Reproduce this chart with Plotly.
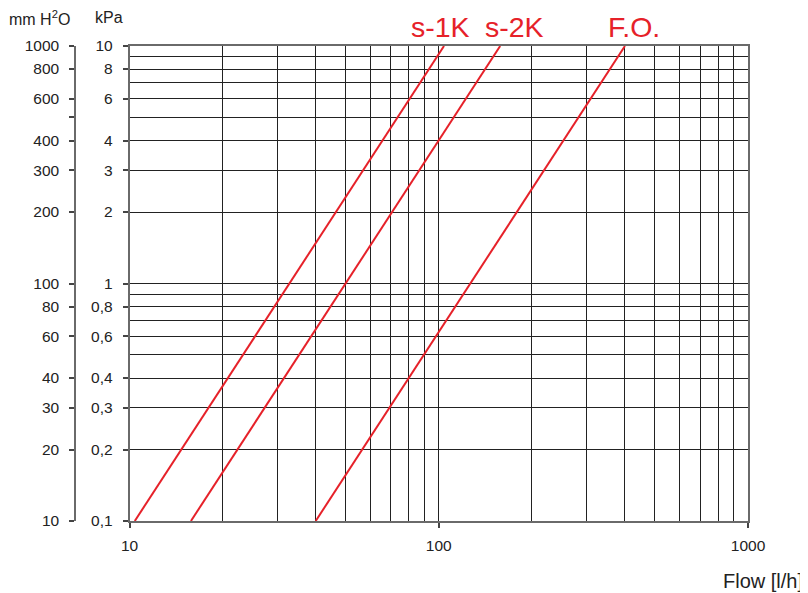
import plotly.graph_objects as go

# ---- data ----
series_names = ["s-1K", "s-2K", "F.O."]
dp_kpa = [0.1, 10]                # pressure drop [kPa] at line ends
flow_s1k = [10.4, 104]            # flow [l/h]
flow_s2k = [15.8, 158]
flow_fo = [40, 400]
series_flows = [flow_s1k, flow_s2k, flow_fo]

kpa_ticks = [0.1, 0.2, 0.3, 0.4, 0.6, 0.8, 1, 2, 3, 4, 6, 8, 10]
kpa_ticktext = ["0,1", "0,2", "0,3", "0,4", "0,6", "0,8", "1", "2", "3", "4", "6", "8", "10"]
mm_ticks = [10, 20, 30, 40, 60, 80, 100, 200, 300, 400, 500, 600, 800, 1000]
mm_ticktext = ["10", "20", "30", "40", "60", "80", "100", "200", "300", "400", "", "600", "800", "1000"]
flow_ticks = [10, 100, 1000]
flow_ticktext = ["10", "100", "1000"]
y_grid = [0.1, 0.2, 0.3, 0.4, 0.5, 0.6, 0.7, 0.8, 0.9, 1, 2, 3, 4, 5, 6, 7, 8, 9, 10]
x_grid = [10, 20, 30, 40, 50, 60, 70, 80, 90, 100, 200, 300, 400, 500, 600, 700, 800, 900, 1000]

RED = "#e62129"
GRID = "#222222"
AXIS = "#6a6a6a"
TICK = "#444444"
FONT = "Liberation Sans, Arial, sans-serif"

fig = go.Figure()
for name, fl in zip(series_names, series_flows):
    fig.add_trace(go.Scatter(x=fl, y=dp_kpa, mode="lines", name=name,
                             line=dict(color=RED, width=2), showlegend=False,
                             cliponaxis=False))
# invisible trace for the secondary (mm H2O) axis
fig.add_trace(go.Scatter(x=[10, 1000], y=[10, 1000], yaxis="y2", mode="markers",
                         marker=dict(opacity=0), showlegend=False, hoverinfo="skip"))

OFF = 8  # page body margin
W, H = 808 - OFF, 593 - OFF
L, R, T, B = 12, 60, 46 - OFF, 72
pw = W - L - R
ph = H - T - B
x0 = (129.5 - OFF - L) / pw
pos2 = (75 - OFF - L) / pw

fig.update_layout(
    width=W, height=H,
    margin=dict(l=L, r=R, t=T, b=B, autoexpand=False),
    paper_bgcolor="white", plot_bgcolor="white",
    font=dict(family=FONT, size=15, color="#222"),
    xaxis=dict(type="log", range=[1, 3], domain=[x0, 1], automargin=False,
               tickvals=flow_ticks, ticktext=flow_ticktext,
               ticks="outside", ticklen=5, tickcolor=TICK, tickwidth=1.5,
               ticklabelstandoff=5,
               showline=True, linecolor=AXIS, linewidth=1.5, mirror=True,
               showgrid=True, gridcolor=GRID, gridwidth=1,
               minor=dict(tickvals=x_grid, showgrid=True, gridcolor=GRID, gridwidth=1, ticks=""),
               zeroline=False, tickfont=dict(size=15.5)),
    yaxis=dict(type="log", range=[-1, 1], automargin=False,
               tickvals=kpa_ticks, ticktext=kpa_ticktext,
               ticks="outside", ticklen=5, tickcolor=TICK, tickwidth=1.5,
               ticklabelstandoff=7,
               showline=True, linecolor=AXIS, linewidth=1.5, mirror=True,
               showgrid=True, gridcolor=GRID, gridwidth=1,
               minor=dict(tickvals=y_grid, showgrid=True, gridcolor=GRID, gridwidth=1, ticks=""),
               zeroline=False, tickfont=dict(size=15.5)),
    yaxis2=dict(type="log", range=[1, 3], overlaying="y", anchor="free",
                position=pos2, side="left", automargin=False,
                tickvals=mm_ticks, ticktext=mm_ticktext,
                ticks="outside", ticklen=5, tickcolor=TICK, tickwidth=1.5,
                ticklabelstandoff=7,
                showline=True, linecolor=AXIS, linewidth=1.5,
                showgrid=False, zeroline=False, tickfont=dict(size=15.5)),
)

ann = []
label_x = [2.005, 2.2456, 2.6298]  # log10 positions of the labels' centres
for name, lx in zip(series_names, label_x):
    ann.append(dict(x=lx, y=1 + 19 / ph, xref="x", yref="paper", text=name,
                    showarrow=False, xanchor="center", yanchor="middle",
                    font=dict(size=28.5, color=RED, family=FONT)))
ann.append(dict(x=(39 - OFF - L) / pw, y=1 + 28 / ph, xref="paper", yref="paper",
                text="mm H<sup>2</sup>O", showarrow=False, xanchor="center", yanchor="middle",
                font=dict(size=16, color="#222", family=FONT)))
ann.append(dict(x=(109 - OFF - L) / pw, y=1 + 28 / ph, xref="paper", yref="paper",
                text="kPa", showarrow=False, xanchor="center", yanchor="middle",
                font=dict(size=16, color="#222", family=FONT)))
ann.append(dict(x=(805 - OFF - L) / pw, y=-60 / ph, xref="paper", yref="paper",
                text="Flow [l/h]", showarrow=False, xanchor="right", yanchor="middle",
                font=dict(size=20, color="#222", family=FONT)))
fig.update_layout(annotations=ann)

fig.write_html("out.html")
